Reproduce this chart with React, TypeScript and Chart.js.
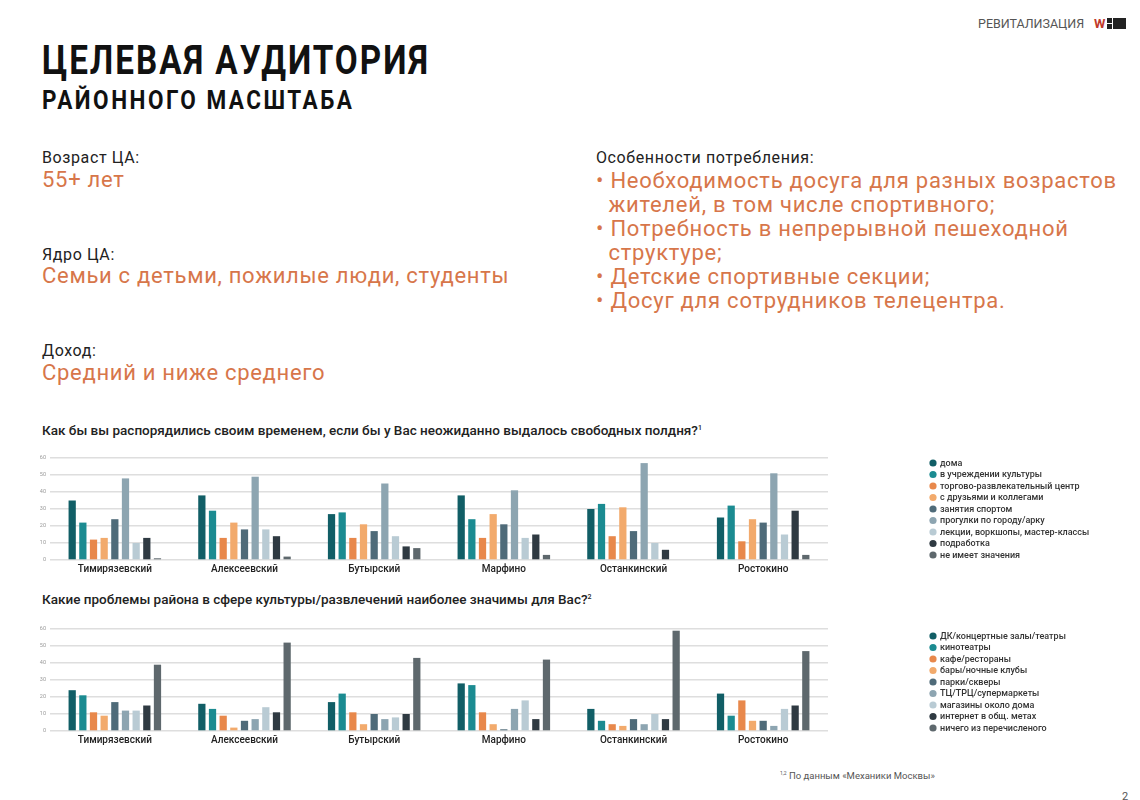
import React, { useEffect, useRef } from "react";
import { Chart, registerables } from "chart.js";

Chart.register(...registerables);

// ---------- data ----------
const districts = ["Тимирязевский", "Алексеевский", "Бутырский", "Марфино", "Останкинский", "Ростокино"];
const yTicks = [0, 10, 20, 30, 40, 50, 60];

// chart 1: leisure
const leisureLabels = [
  "дома",
  "в учреждении культуры",
  "торгово-развлекательный центр",
  "с друзьями и коллегами",
  "занятия спортом",
  "прогулки по городу/арку",
  "лекции, воркшопы, мастер-классы",
  "подработка",
  "не имеет значения",
];
const leisureHome = [35, 38, 27, 38, 30, 25];
const leisureCulture = [22, 29, 28, 24, 33, 32];
const leisureMall = [12, 13, 13, 13, 14, 11];
const leisureFriends = [13, 22, 21, 27, 31, 24];
const leisureSport = [24, 18, 17, 21, 17, 22];
const leisureWalks = [48, 49, 45, 41, 57, 51];
const leisureLectures = [10, 18, 14, 13, 10, 15];
const leisureWork = [13, 14, 8, 15, 6, 29];
const leisureNoMatter = [1, 2, 7, 3, 0, 3];

// chart 2: problems
const problemLabels = [
  "ДК/концертные залы/театры",
  "кинотеатры",
  "кафе/рестораны",
  "бары/ночные клубы",
  "парки/скверы",
  "ТЦ/ТРЦ/супермаркеты",
  "магазины около дома",
  "интернет в общ. метах",
  "ничего из перечисленого",
];
const problemDK = [24, 16, 17, 28, 13, 22];
const problemCinema = [21, 13, 22, 27, 6, 9];
const problemCafe = [11, 9, 11, 11, 4, 18];
const problemBars = [9, 2, 4, 4, 3, 6];
const problemParks = [17, 6, 10, 1, 7, 6];
const problemMalls = [12, 7, 7, 13, 4, 3];
const problemShops = [12, 14, 8, 18, 10, 13];
const problemInternet = [15, 11, 10, 7, 7, 15];
const problemNothing = [39, 52, 43, 42, 59, 47];

const palette = ["#115e66", "#1b8b91", "#e8884b", "#f2aa6c", "#4f6b79", "#8da5b1", "#b9cbd4", "#2f3a42", "#5e686d"];

const ORANGE = "#d7764a";

// ---------- legend plugin ----------
const sideLegend = {
  id: "sideLegend",
  afterDraw(chart: any, _args: any, opts: any) {
    const ctx = chart.ctx;
    chart.data.datasets.forEach((ds: any, i: number) => {
      const y = opts.y + i * opts.step;
      ctx.save();
      ctx.fillStyle = ds.backgroundColor;
      ctx.beginPath();
      ctx.arc(opts.x, y, 3.6, 0, Math.PI * 2);
      ctx.fill();
      ctx.fillStyle = "#333";
      ctx.font = "500 9px Roboto";
      ctx.textBaseline = "middle";
      ctx.fillText(ds.label, opts.x + 7, y + 0.5);
      ctx.restore();
    });
  },
};

function BarChart({ labels, series, top, height, padTop, legendY }: any) {
  const ref = useRef<HTMLCanvasElement>(null);
  useEffect(() => {
    const chart = new Chart(ref.current as HTMLCanvasElement, {
      type: "bar",
      data: {
        labels: districts,
        datasets: series.map((d: number[], i: number) => ({
          label: labels[i],
          data: d,
          backgroundColor: palette[i],
          borderWidth: 0,
          categoryPercentage: 0.74,
          barPercentage: 0.68,
        })),
      },
      options: {
        animation: false,
        responsive: false,
        maintainAspectRatio: false,
        layout: { padding: { top: padTop, right: 312, left: 0, bottom: 0 } },
        plugins: {
          legend: { display: false },
          tooltip: { enabled: false },
          sideLegend: { x: 933, y: legendY, step: 11.5 },
        } as any,
        scales: {
          x: {
            grid: { display: false, drawTicks: false },
            border: { display: false },
            ticks: { color: "#222", font: { family: "Roboto", size: 10, weight: 500 }, padding: 3 },
            afterFit: (s: any) => {
              s.height = 20;
            },
          },
          y: {
            min: 0,
            max: 60,
            afterBuildTicks: (s: any) => {
              s.ticks = yTicks.map((v) => ({ value: v }));
            },
            grid: { color: "#dedede", lineWidth: 1.4, drawTicks: false },
            border: { display: false },
            ticks: { color: "#9a9a9a", font: { family: "Roboto", size: 5.5 }, padding: 4 },
            afterFit: (s: any) => {
              s.width = 50;
            },
          },
        },
      },
      plugins: [sideLegend],
    });
    return () => chart.destroy();
  }, []);
  return (
    <canvas
      ref={ref}
      width={1140}
      height={height}
      style={{ position: "absolute", left: 0, top, width: 1140, height }}
    />
  );
}

const txt = (extra: any) => ({
  position: "absolute" as const,
  margin: 0,
  whiteSpace: "nowrap" as const,
  fontFamily: "Roboto, sans-serif",
  lineHeight: 1,
  ...extra,
});

export default function App() {
  useEffect(() => {
    document.body.style.margin = "0";
  }, []);
  const bullets = [
    "• Необходимость досуга для разных возрастов",
    "  жителей, в том числе спортивного;",
    "• Потребность в непрерывной пешеходной",
    "  структуре;",
    "• Детские спортивные секции;",
    "• Досуг для сотрудников телецентра.",
  ];
  return (
    <div style={{ position: "absolute", left: 0, top: 0, width: 1140, height: 800, background: "#fff", overflow: "hidden" }}>
      {/* header right */}
      <div style={txt({ left: 978, top: 18, fontSize: 12.5, color: "#555", fontWeight: 400, letterSpacing: 0 })}>РЕВИТАЛИЗАЦИЯ</div>
      <div style={txt({ left: 1094, top: 17, fontSize: 13, color: "#c0392b", fontWeight: 700 })}>W</div>
      <div style={{ position: "absolute", left: 1107, top: 18, width: 5, height: 5, background: "#222" }} />
      <div style={{ position: "absolute", left: 1107, top: 24, width: 5, height: 5, background: "#222" }} />
      <div style={{ position: "absolute", left: 1113, top: 18, width: 13, height: 11, background: "#222" }} />

      {/* title */}
      <div style={txt({ left: 42, top: 41, fontSize: 40, fontWeight: 700, color: "#111", letterSpacing: 2.4, transform: "scaleX(0.83)", transformOrigin: "left top" })}>
        ЦЕЛЕВАЯ АУДИТОРИЯ
      </div>
      <div style={txt({ left: 42, top: 88, fontSize: 25, fontWeight: 700, color: "#111", letterSpacing: 2.8, transform: "scaleX(0.9)", transformOrigin: "left top" })}>
        РАЙОННОГО МАСШТАБА
      </div>

      {/* left column */}
      <div style={txt({ left: 42, top: 150, fontSize: 16, color: "#222", letterSpacing: 0.6 })}>Возраст ЦА:</div>
      <div style={txt({ left: 42, top: 169, fontSize: 22, color: ORANGE, letterSpacing: 0.7 })}>55+ лет</div>
      <div style={txt({ left: 42, top: 247, fontSize: 16, color: "#222", letterSpacing: 0.6 })}>Ядро ЦА:</div>
      <div style={txt({ left: 42, top: 265, fontSize: 22, color: ORANGE, letterSpacing: 0.7 })}>
        Семьи с детьми, пожилые люди, студенты
      </div>
      <div style={txt({ left: 42, top: 343, fontSize: 16, color: "#222", letterSpacing: 0.6 })}>Доход:</div>
      <div style={txt({ left: 42, top: 362, fontSize: 22, color: ORANGE, letterSpacing: 0.7 })}>Средний и ниже среднего</div>

      {/* right column */}
      <div style={txt({ left: 596, top: 150, fontSize: 16, color: "#222", letterSpacing: 0.6 })}>Особенности потребления:</div>
      {bullets.map((b, i) => (
        <div key={i} style={txt({ left: 596, top: 170 + i * 24, fontSize: 22, color: ORANGE, letterSpacing: 0.75, whiteSpace: "pre" })}>
          {b}
        </div>
      ))}

      {/* chart titles */}
      <div style={txt({ left: 42, top: 424, fontSize: 13.5, fontWeight: 500, color: "#222", letterSpacing: 0 })}>
        Как бы вы распорядились своим временем, если бы у Вас неожиданно выдалось свободных полдня?<sup style={{ fontSize: 7 }}>1</sup>
      </div>
      <BarChart
        labels={leisureLabels}
        series={[leisureHome, leisureCulture, leisureMall, leisureFriends, leisureSport, leisureWalks, leisureLectures, leisureWork, leisureNoMatter]}
        top={445}
        height={135}
        padTop={13}
        legendY={18}
      />

      <div style={txt({ left: 42, top: 593, fontSize: 13.5, fontWeight: 500, color: "#222", letterSpacing: 0 })}>
        Какие проблемы района в сфере культуры/развлечений наиболее значимы для Вас?<sup style={{ fontSize: 7 }}>2</sup>
      </div>
      <BarChart
        labels={problemLabels}
        series={[problemDK, problemCinema, problemCafe, problemBars, problemParks, problemMalls, problemShops, problemInternet, problemNothing]}
        top={615}
        height={136}
        padTop={14}
        legendY={21}
      />

      {/* footnote */}
      <div style={txt({ left: 780, top: 771, fontSize: 9.5, color: "#555" })}>
        <sup style={{ fontSize: 5 }}>1,2</sup> По данным «Механики Москвы»
      </div>
      <div style={txt({ left: 1122, top: 791, fontSize: 11, color: "#555" })}>2</div>
    </div>
  );
}
